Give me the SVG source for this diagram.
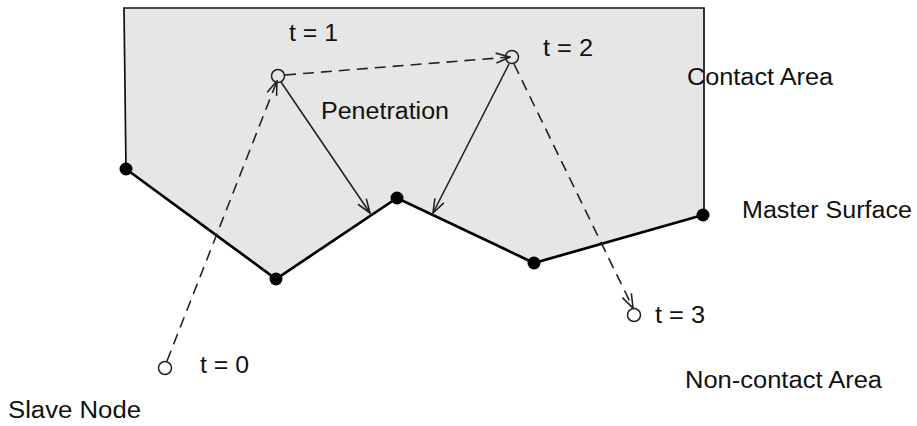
<svg xmlns="http://www.w3.org/2000/svg" width="917" height="426" viewBox="0 0 917 426">
<defs>
<style>
.lbl{font-family:"Liberation Sans",Arial,sans-serif;font-size:23.5px;fill:#111}
.dash{fill:none;stroke:#222;stroke-width:1.6;stroke-dasharray:11,7}
.solid{fill:none;stroke:#222;stroke-width:1.6}
.node{fill:none;stroke:#222;stroke-width:1.5}
.mnode{fill:#000}
</style>
<marker id="ah" viewBox="0 0 16 12" refX="15" refY="6" markerWidth="16" markerHeight="12" markerUnits="userSpaceOnUse" orient="auto">
<path d="M1,1 L15,6 L1,11" fill="none" stroke="#222" stroke-width="1.6" stroke-dasharray="none"/>
</marker>
</defs>
<g id="contact-area">
<path d="M124,8 L704,8 L704,215 L534,263 L397,198 L276,279 L126,169 Z" fill="#e6e6e6" stroke="none"/>
<path d="M126,169 L124,8 L704,8 L704,215" fill="none" stroke="#111" stroke-width="1.7"/>
</g>
<g id="master-surface">
<polyline points="126,169 276,279 397,198 534,263 703,215" fill="none" stroke="#000" stroke-width="2.7"/>
<circle class="mnode" cx="126" cy="169" r="6.5"/>
<circle class="mnode" cx="276" cy="279" r="6.5"/>
<circle class="mnode" cx="397" cy="198" r="6.5"/>
<circle class="mnode" cx="534" cy="263" r="6.5"/>
<circle class="mnode" cx="703" cy="215" r="6.5"/>
</g>
<g id="connectors">
<path class="dash" d="M167,361 L277,81" marker-end="url(#ah)"/>
<path class="dash" d="M285,75 L510,57" marker-end="url(#ah)"/>
<path class="dash" d="M514,64 L633,308" marker-end="url(#ah)"/>
<path class="solid" d="M281,82 L370,213" marker-end="url(#ah)"/>
<path class="solid" d="M509,64 L433,213" marker-end="url(#ah)"/>
</g>
<g id="node-t0"><circle class="node" cx="165" cy="368" r="6.5"/><text class="lbl" x="200" y="373" textLength="49" lengthAdjust="spacingAndGlyphs">t = 0</text></g>
<g id="node-t1"><circle class="node" cx="278" cy="76" r="6.5"/><text class="lbl" x="289" y="41" textLength="49" lengthAdjust="spacingAndGlyphs">t = 1</text></g>
<g id="node-t2"><circle class="node" cx="512" cy="57" r="6.5"/><text class="lbl" x="543" y="56" textLength="50" lengthAdjust="spacingAndGlyphs">t = 2</text></g>
<g id="node-t3"><circle class="node" cx="634" cy="315" r="6.5"/><text class="lbl" x="655" y="323" textLength="50" lengthAdjust="spacingAndGlyphs">t = 3</text></g>
<g id="labels">
<text class="lbl" x="321" y="119" textLength="128" lengthAdjust="spacingAndGlyphs">Penetration</text>
<text class="lbl" x="687" y="85" textLength="146" lengthAdjust="spacingAndGlyphs">Contact Area</text>
<text class="lbl" x="742" y="218" textLength="170" lengthAdjust="spacingAndGlyphs">Master Surface</text>
<text class="lbl" x="685" y="388" textLength="197" lengthAdjust="spacingAndGlyphs">Non-contact Area</text>
<text class="lbl" x="8" y="418" textLength="133" lengthAdjust="spacingAndGlyphs">Slave Node</text>
</g>
</svg>
